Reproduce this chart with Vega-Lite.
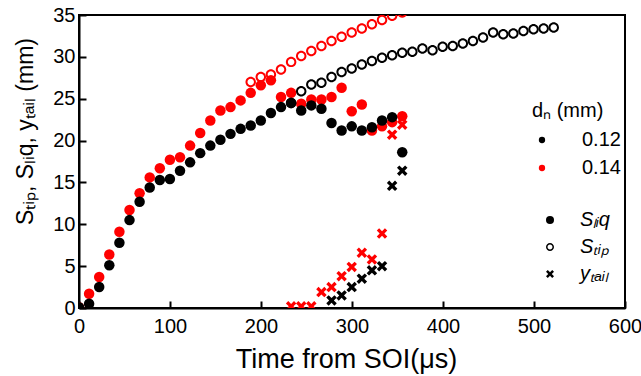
{
  "$schema": "https://vega.github.io/schema/vega-lite/v6.json",
  "width": 546,
  "height": 293,
  "autosize": {"type": "none"},
  "padding": {"left": 79, "top": 15, "right": 16, "bottom": 68},
  "background": "white",
  "config": {
    "font": "Liberation Sans",
    "view": {"stroke": "black", "strokeWidth": 2},
    "axis": {
      "domainColor": "black", "domainWidth": 2,
      "tickColor": "black", "tickWidth": 2, "tickSize": -7,
      "labelColor": "black", "titleColor": "black", "grid": false,
      "labelFont": "Liberation Sans", "titleFont": "Liberation Sans",
      "labelFontSize": 20, "titleFontWeight": "normal",
      "labelFlush": false, "labelOverlap": false
    },
    "legend": {"padding": 0, "labelFont": "Liberation Sans", "titleFont": "Liberation Sans", "labelColor": "black", "titleColor": "black"}
  },
  "data": {"values": [
    {"t":188.7,"v":27.0,"d":"0.14","s":"Stip"},{"t":199.8,"v":27.6,"d":"0.14","s":"Stip"},{"t":210.9,"v":27.9,"d":"0.14","s":"Stip"},{"t":222,"v":28.5,"d":"0.14","s":"Stip"},{"t":233.1,"v":29.4,"d":"0.14","s":"Stip"},{"t":244.2,"v":30.1,"d":"0.14","s":"Stip"},{"t":255.3,"v":30.7,"d":"0.14","s":"Stip"},{"t":266.4,"v":31.3,"d":"0.14","s":"Stip"},{"t":277.5,"v":31.9,"d":"0.14","s":"Stip"},{"t":288.6,"v":32.4,"d":"0.14","s":"Stip"},{"t":299.7,"v":32.9,"d":"0.14","s":"Stip"},{"t":310.8,"v":33.4,"d":"0.14","s":"Stip"},{"t":321.9,"v":33.9,"d":"0.14","s":"Stip"},{"t":333,"v":34.4,"d":"0.14","s":"Stip"},{"t":344.1,"v":34.9,"d":"0.14","s":"Stip"},{"t":355.2,"v":35.3,"d":"0.14","s":"Stip"},
    {"t":0,"v":0.1,"d":"0.14","s":"Sliq"},{"t":11.1,"v":1.7,"d":"0.14","s":"Sliq"},{"t":22.2,"v":3.7,"d":"0.14","s":"Sliq"},{"t":33.3,"v":6.4,"d":"0.14","s":"Sliq"},{"t":44.4,"v":9.1,"d":"0.14","s":"Sliq"},{"t":55.5,"v":11.7,"d":"0.14","s":"Sliq"},{"t":66.6,"v":13.7,"d":"0.14","s":"Sliq"},{"t":77.7,"v":15.6,"d":"0.14","s":"Sliq"},{"t":88.8,"v":16.7,"d":"0.14","s":"Sliq"},{"t":99.9,"v":17.7,"d":"0.14","s":"Sliq"},{"t":111,"v":18.0,"d":"0.14","s":"Sliq"},{"t":122.1,"v":19.4,"d":"0.14","s":"Sliq"},{"t":133.2,"v":20.9,"d":"0.14","s":"Sliq"},{"t":144.3,"v":22.4,"d":"0.14","s":"Sliq"},{"t":155.4,"v":23.6,"d":"0.14","s":"Sliq"},{"t":166.5,"v":24.0,"d":"0.14","s":"Sliq"},{"t":177.6,"v":24.8,"d":"0.14","s":"Sliq"},{"t":188.7,"v":25.7,"d":"0.14","s":"Sliq"},{"t":199.8,"v":26.6,"d":"0.14","s":"Sliq"},{"t":210.9,"v":27.2,"d":"0.14","s":"Sliq"},{"t":222,"v":25.2,"d":"0.14","s":"Sliq"},{"t":233.1,"v":25.7,"d":"0.14","s":"Sliq"},{"t":244.2,"v":24.4,"d":"0.14","s":"Sliq"},{"t":255.3,"v":24.9,"d":"0.14","s":"Sliq"},{"t":266.4,"v":24.9,"d":"0.14","s":"Sliq"},{"t":277.5,"v":25.2,"d":"0.14","s":"Sliq"},{"t":288.6,"v":26.3,"d":"0.14","s":"Sliq"},{"t":299.7,"v":23.5,"d":"0.14","s":"Sliq"},{"t":310.8,"v":24.3,"d":"0.14","s":"Sliq"},{"t":321.9,"v":21.2,"d":"0.14","s":"Sliq"},{"t":333,"v":21.7,"d":"0.14","s":"Sliq"},{"t":344.1,"v":22.2,"d":"0.14","s":"Sliq"},{"t":355.2,"v":22.9,"d":"0.14","s":"Sliq"},
    {"t":233.1,"v":0.2,"d":"0.14","s":"ytail"},{"t":244.2,"v":0.2,"d":"0.14","s":"ytail"},{"t":255.3,"v":0.2,"d":"0.14","s":"ytail"},{"t":266.4,"v":1.9,"d":"0.14","s":"ytail"},{"t":277.5,"v":2.5,"d":"0.14","s":"ytail"},{"t":288.6,"v":3.8,"d":"0.14","s":"ytail"},{"t":299.7,"v":4.9,"d":"0.14","s":"ytail"},{"t":310.8,"v":6.6,"d":"0.14","s":"ytail"},{"t":321.9,"v":5.8,"d":"0.14","s":"ytail"},{"t":333,"v":8.9,"d":"0.14","s":"ytail"},{"t":344.1,"v":20.7,"d":"0.14","s":"ytail"},{"t":355.2,"v":21.9,"d":"0.14","s":"ytail"},
    {"t":233.1,"v":24.5,"d":"0.12","s":"Stip"},{"t":244.2,"v":25.9,"d":"0.12","s":"Stip"},{"t":255.3,"v":26.7,"d":"0.12","s":"Stip"},{"t":266.4,"v":26.9,"d":"0.12","s":"Stip"},{"t":277.5,"v":27.6,"d":"0.12","s":"Stip"},{"t":288.6,"v":28.2,"d":"0.12","s":"Stip"},{"t":299.7,"v":28.6,"d":"0.12","s":"Stip"},{"t":310.8,"v":29.1,"d":"0.12","s":"Stip"},{"t":321.9,"v":29.5,"d":"0.12","s":"Stip"},{"t":333,"v":29.9,"d":"0.12","s":"Stip"},{"t":344.1,"v":30.2,"d":"0.12","s":"Stip"},{"t":355.2,"v":30.5,"d":"0.12","s":"Stip"},{"t":366.3,"v":30.6,"d":"0.12","s":"Stip"},{"t":377.4,"v":31.0,"d":"0.12","s":"Stip"},{"t":388.5,"v":30.8,"d":"0.12","s":"Stip"},{"t":399.6,"v":31.2,"d":"0.12","s":"Stip"},{"t":410.7,"v":31.3,"d":"0.12","s":"Stip"},{"t":421.8,"v":31.6,"d":"0.12","s":"Stip"},{"t":432.9,"v":31.9,"d":"0.12","s":"Stip"},{"t":444,"v":32.3,"d":"0.12","s":"Stip"},{"t":455.1,"v":32.9,"d":"0.12","s":"Stip"},{"t":466.2,"v":32.7,"d":"0.12","s":"Stip"},{"t":477.3,"v":32.8,"d":"0.12","s":"Stip"},{"t":488.4,"v":33.1,"d":"0.12","s":"Stip"},{"t":499.5,"v":33.3,"d":"0.12","s":"Stip"},{"t":510.6,"v":33.4,"d":"0.12","s":"Stip"},{"t":521.7,"v":33.5,"d":"0.12","s":"Stip"},
    {"t":0,"v":0.1,"d":"0.12","s":"Sliq"},{"t":11.1,"v":0.5,"d":"0.12","s":"Sliq"},{"t":22.2,"v":2.5,"d":"0.12","s":"Sliq"},{"t":33.3,"v":5.1,"d":"0.12","s":"Sliq"},{"t":44.4,"v":7.8,"d":"0.12","s":"Sliq"},{"t":55.5,"v":10.5,"d":"0.12","s":"Sliq"},{"t":66.6,"v":12.7,"d":"0.12","s":"Sliq"},{"t":77.7,"v":14.4,"d":"0.12","s":"Sliq"},{"t":88.8,"v":15.3,"d":"0.12","s":"Sliq"},{"t":99.9,"v":15.4,"d":"0.12","s":"Sliq"},{"t":111,"v":16.4,"d":"0.12","s":"Sliq"},{"t":122.1,"v":17.4,"d":"0.12","s":"Sliq"},{"t":133.2,"v":18.5,"d":"0.12","s":"Sliq"},{"t":144.3,"v":19.4,"d":"0.12","s":"Sliq"},{"t":155.4,"v":20.1,"d":"0.12","s":"Sliq"},{"t":166.5,"v":20.8,"d":"0.12","s":"Sliq"},{"t":177.6,"v":21.4,"d":"0.12","s":"Sliq"},{"t":188.7,"v":21.8,"d":"0.12","s":"Sliq"},{"t":199.8,"v":22.4,"d":"0.12","s":"Sliq"},{"t":210.9,"v":23.3,"d":"0.12","s":"Sliq"},{"t":222,"v":24.0,"d":"0.12","s":"Sliq"},{"t":233.1,"v":24.5,"d":"0.12","s":"Sliq"},{"t":244.2,"v":23.6,"d":"0.12","s":"Sliq"},{"t":255.3,"v":24.2,"d":"0.12","s":"Sliq"},{"t":266.4,"v":23.8,"d":"0.12","s":"Sliq"},{"t":277.5,"v":22.1,"d":"0.12","s":"Sliq"},{"t":288.6,"v":21.2,"d":"0.12","s":"Sliq"},{"t":299.7,"v":21.7,"d":"0.12","s":"Sliq"},{"t":310.8,"v":21.2,"d":"0.12","s":"Sliq"},{"t":321.9,"v":21.6,"d":"0.12","s":"Sliq"},{"t":333,"v":22.4,"d":"0.12","s":"Sliq"},{"t":344.1,"v":22.8,"d":"0.12","s":"Sliq"},{"t":355.2,"v":18.6,"d":"0.12","s":"Sliq"},
    {"t":277.5,"v":0.9,"d":"0.12","s":"ytail"},{"t":288.6,"v":1.5,"d":"0.12","s":"ytail"},{"t":299.7,"v":2.5,"d":"0.12","s":"ytail"},{"t":310.8,"v":3.5,"d":"0.12","s":"ytail"},{"t":321.9,"v":4.5,"d":"0.12","s":"ytail"},{"t":333,"v":5.0,"d":"0.12","s":"ytail"},{"t":344.1,"v":14.6,"d":"0.12","s":"ytail"},{"t":355.2,"v":16.4,"d":"0.12","s":"ytail"}
  ]},
  "mark": {"type": "point", "filled": true, "size": 110, "opacity": 1, "strokeWidth": 0, "clip": true},
  "encoding": {
    "x": {
      "field": "t", "type": "quantitative",
      "scale": {"domain": [0, 600], "nice": false, "zero": false},
      "axis": {"values": [0, 100, 200, 300, 400, 500, 600], "title": "Time from SOI(μs)", "titleFontSize": 27, "labelPadding": 15, "titleX": 267, "titleY": 59, "titleBaseline": "alphabetic", "titleAlign": "center"}
    },
    "y": {
      "field": "v", "type": "quantitative",
      "scale": {"domain": [0, 35], "nice": false},
      "axis": {"values": [0, 5, 10, 15, 20, 25, 30, 35], "title": "Sₜᵢₚ, Sₗᵢq, yₜₐᵢₗ (mm)", "titleFontSize": 23, "labelPadding": 11, "titleAngle": 270, "titleX": -47, "titleY": 116, "titleBaseline": "alphabetic", "titleAlign": "center"}
    },
    "color": {
      "field": "d", "type": "nominal",
      "scale": {"domain": ["0.12", "0.14"], "range": ["#000000", "#ff0000"]},
      "legend": {"title": "dₙ (mm)", "orient": "none", "legendX": 453, "legendY": 86, "titleFontSize": 20, "titleFontWeight": "normal", "labelFontSize": 20, "symbolType": "circle", "symbolSize": 40, "symbolStrokeWidth": 0, "labelOffset": 30, "rowPadding": 8, "titlePadding": 9}
    },
    "shape": {
      "field": "s", "type": "nominal",
      "scale": {"domain": ["Sliq", "Stip", "ytail"], "range": ["circle", "M1,0A1,1,0,1,0,-1,0A1,1,0,1,0,1,0ZM0.62,0A0.62,0.62,0,1,1,-0.62,0A0.62,0.62,0,1,1,0.62,0Z", "M-1,-0.55L-0.55,-1L0,-0.45L0.55,-1L1,-0.55L0.45,0L1,0.55L0.55,1L0,0.45L-0.55,1L-1,0.55L-0.45,0Z"]},
      "legend": {"title": null, "orient": "none", "legendX": 461, "legendY": 195, "labelFontSize": 20, "labelFontStyle": "italic", "symbolSize": 64, "symbolFillColor": "black", "symbolStrokeColor": "black", "symbolStrokeWidth": 0, "labelOffset": 20, "rowPadding": 7, "labelExpr": "datum.value == 'Sliq' ? 'Sₗᵢq' : datum.value == 'Stip' ? 'Sₜᵢₚ' : 'yₜₐᵢₗ'"}
    }
  }
}
